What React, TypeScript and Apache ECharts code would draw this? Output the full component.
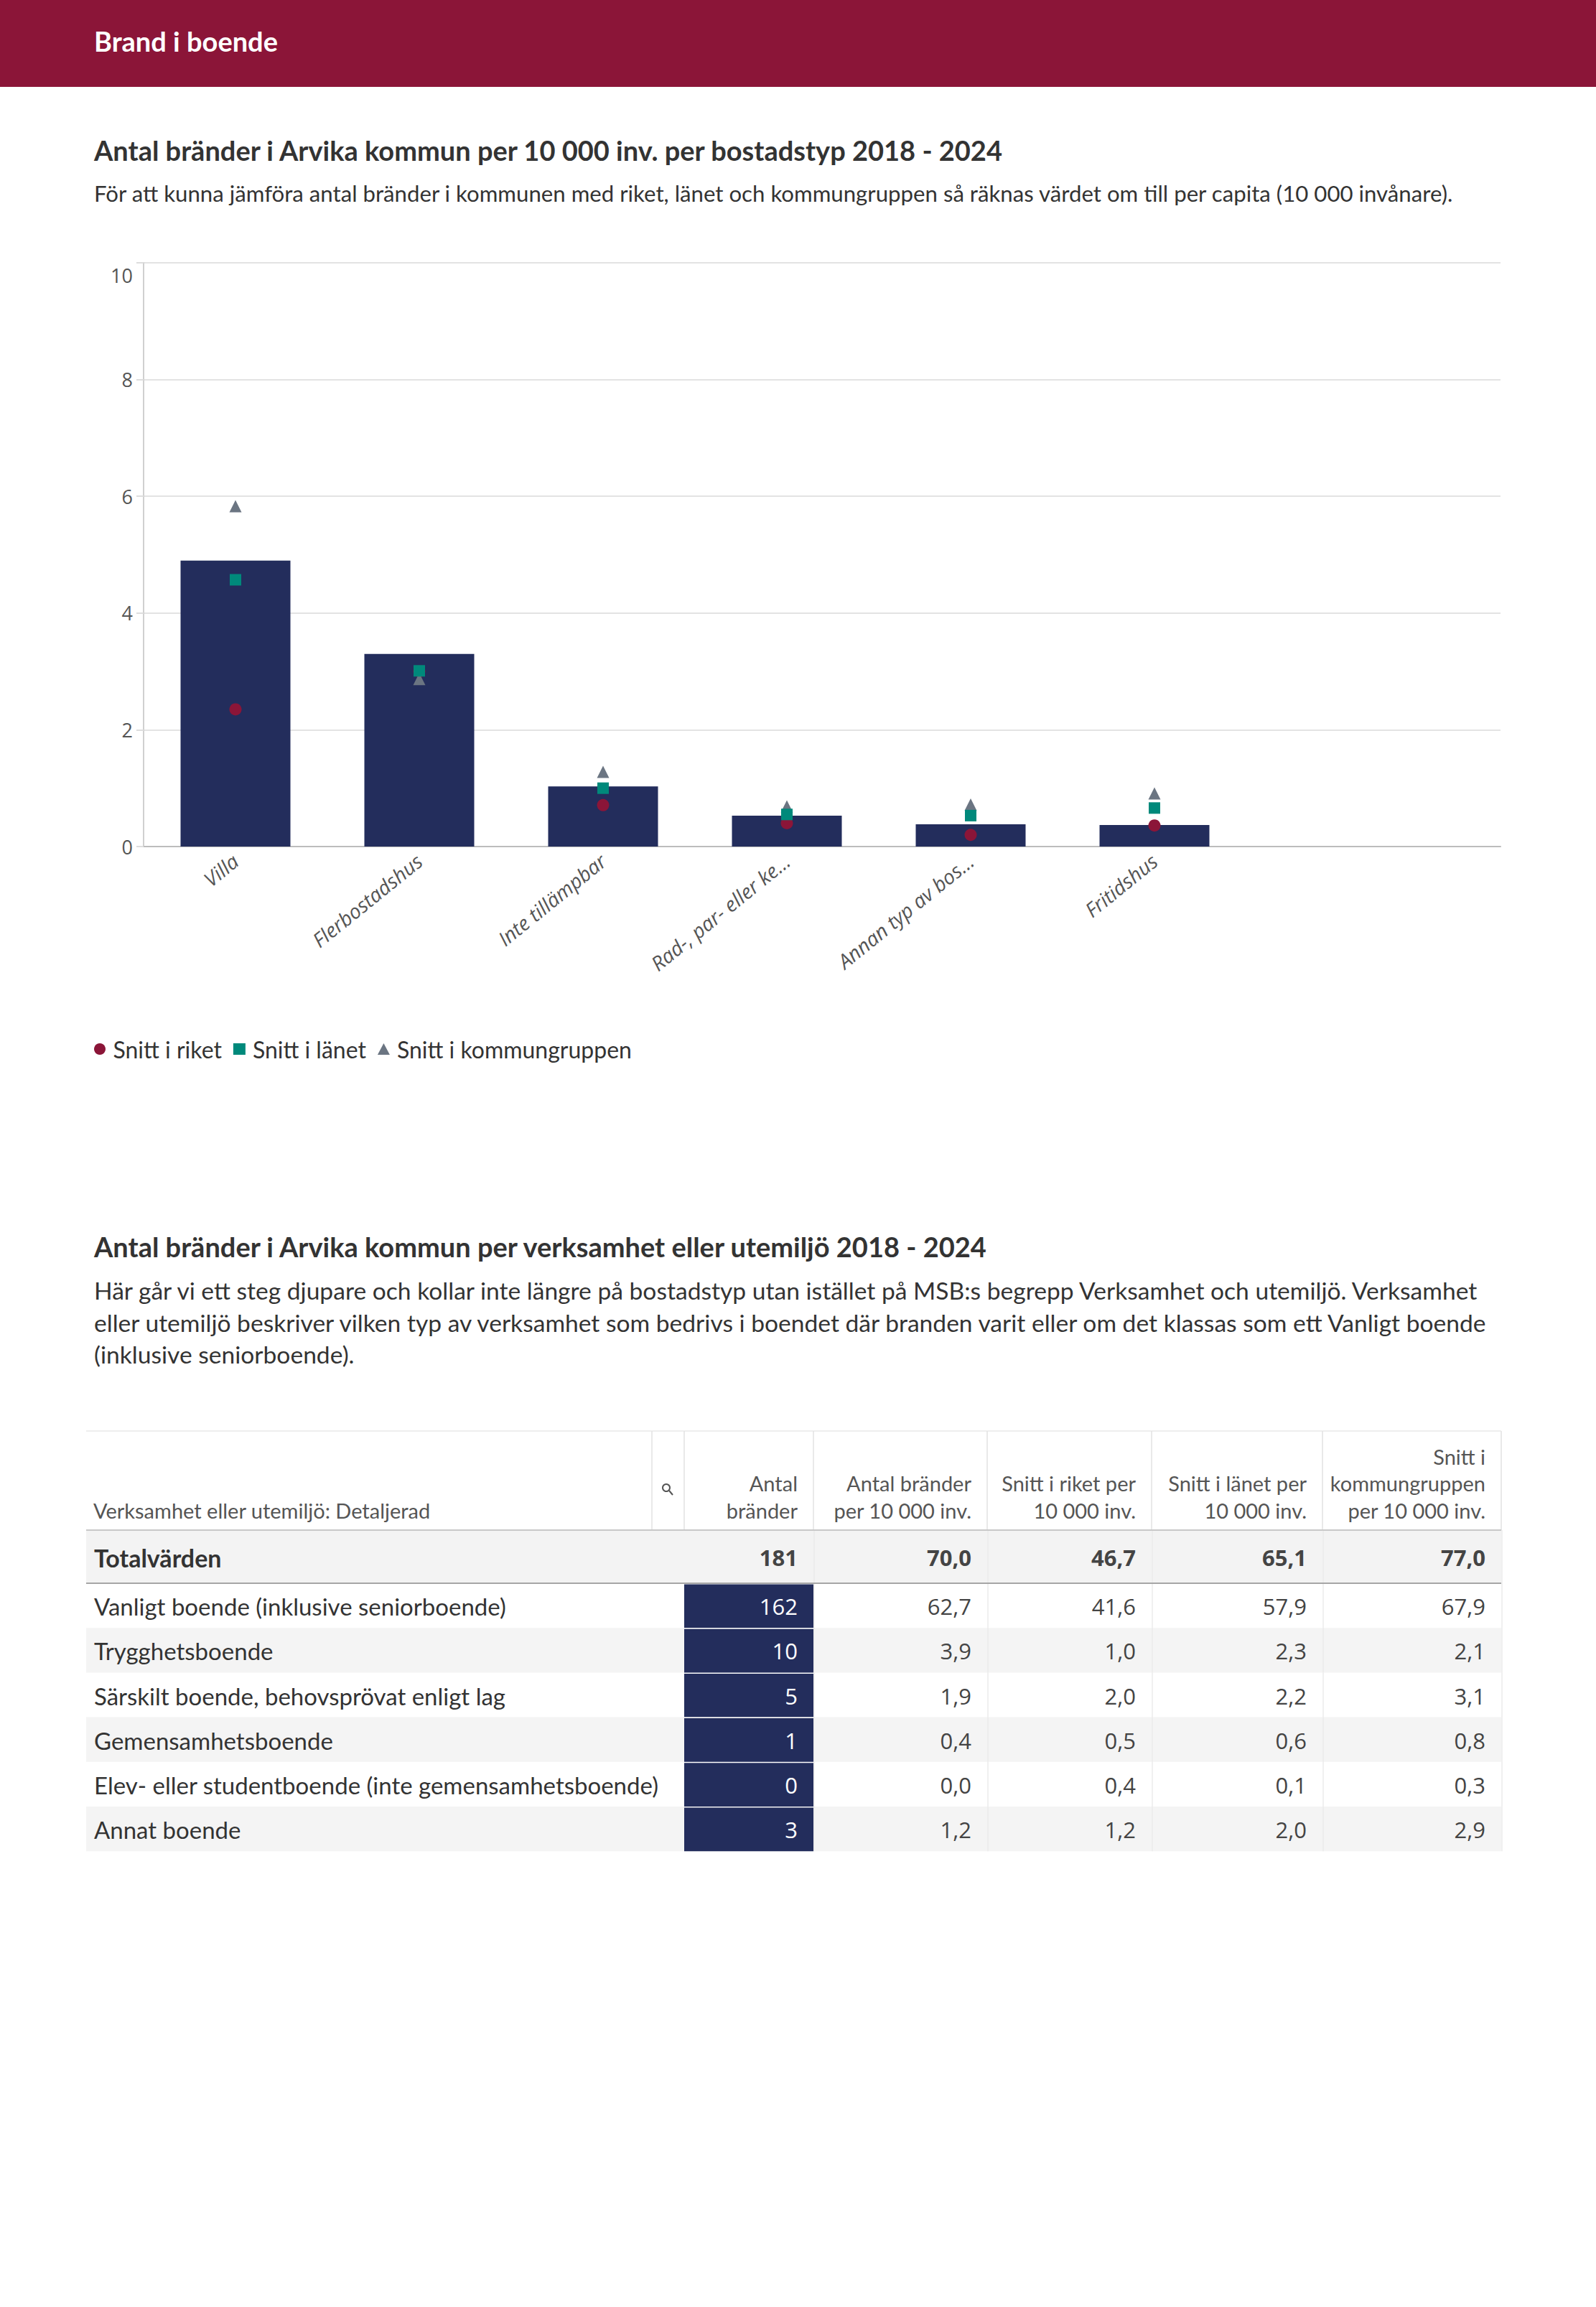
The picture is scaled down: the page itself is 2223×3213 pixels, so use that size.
import React, { useEffect, useRef } from 'react';
import * as echarts from 'echarts';

// ---------- Data ----------
const categories = ['Villa', 'Flerbostadshus', 'Inte tillämpbar', 'Rad-, par- eller ke…', 'Annan typ av bos…', 'Fritidshus'];
const barValues = [4.9, 3.3, 1.03, 0.53, 0.38, 0.37];
const riketValues = [2.35, 3.0, 0.71, 0.4, 0.2, 0.36];
const lanetValues = [4.57, 3.01, 1.0, 0.55, 0.53, 0.66];
const kommunValues = [5.83, 2.87, 1.28, 0.69, 0.72, 0.91];
const legendNames = ['Snitt i riket', 'Snitt i länet', 'Snitt i kommungruppen'];

const tableRows = [
  'Vanligt boende (inklusive seniorboende)',
  'Trygghetsboende',
  'Särskilt boende, behovsprövat enligt lag',
  'Gemensamhetsboende',
  'Elev- eller studentboende (inte gemensamhetsboende)',
  'Annat boende',
];
const antalBrander = [162, 10, 5, 1, 0, 3];
const branderPer10k = [62.7, 3.9, 1.9, 0.4, 0.0, 1.2];
const riketPer10k = [41.6, 1.0, 2.0, 0.5, 0.4, 1.2];
const lanetPer10k = [57.9, 2.3, 2.2, 0.6, 0.1, 2.0];
const kommunPer10k = [67.9, 2.1, 3.1, 0.8, 0.3, 2.9];
const totals = [181, 70.0, 46.7, 65.1, 77.0];
const tableHeaders = [
  ['Antal', 'bränder'],
  ['Antal bränder', 'per 10 000 inv.'],
  ['Snitt i riket per', '10 000 inv.'],
  ['Snitt i länet per', '10 000 inv.'],
  ['Snitt i', 'kommungruppen', 'per 10 000 inv.'],
];
const firstHeader = 'Verksamhet eller utemiljö: Detaljerad';
const totalLabel = 'Totalvärden';

const pageTitle = 'Brand i boende';
const chartTitle = 'Antal bränder i Arvika kommun per 10 000 inv. per bostadstyp 2018 - 2024';
const chartSubtitle = 'För att kunna jämföra antal bränder i kommunen med riket, länet och kommungruppen så räknas värdet om till per capita (10 000 invånare).';
const tableTitle = 'Antal bränder i Arvika kommun per verksamhet eller utemiljö 2018 - 2024';
const tableText = [
  'Här går vi ett steg djupare och kollar inte längre på bostadstyp utan istället på MSB:s begrepp Verksamhet och utemiljö. Verksamhet',
  'eller utemiljö beskriver vilken typ av verksamhet som bedrivs i boendet där branden varit eller om det klassas som ett Vanligt boende',
  '(inklusive seniorboende).',
];

// ---------- Styles ----------
const GILL = 'Lato, "Noto Sans", sans-serif';
const SEGOE = '"Open Sans", "Noto Sans", sans-serif';
const NAVY = '#232d5c';
const CRIMSON = '#8b1538';
const TEAL = '#00897b';
const GREY = '#6b7582';
const TEXT = '#333333';

const fmt = (v: number) => v.toFixed(1).replace('.', ',');

function txt(x: number, y: number, text: string, o: any = {}) {
  return {
    type: 'text',
    x,
    y,
    silent: true,
    z: 10,
    style: {
      text,
      fill: o.fill ?? TEXT,
      fontSize: o.size ?? 28,
      fontFamily: o.family ?? GILL,
      fontWeight: o.weight ?? 'normal',
      align: o.align ?? 'left',
      verticalAlign: 'middle',
    },
  };
}

function rect(x: number, y: number, w: number, h: number, fill: string) {
  return { type: 'rect', silent: true, z: 1, shape: { x, y, width: w, height: h }, style: { fill } };
}

function line(x1: number, y1: number, x2: number, y2: number, stroke: string, lw = 1) {
  return { type: 'line', silent: true, z: 5, shape: { x1, y1, x2, y2 }, style: { stroke, lineWidth: lw } };
}

function buildGraphic() {
  const g: any[] = [];
  // header band
  g.push(rect(0, 0, 2223, 121, CRIMSON));
  g.push(txt(131, 57, pageTitle, { size: 38, weight: 'bold', fill: '#ffffff' }));
  // chart title
  g.push(txt(131, 209, chartTitle, { size: 38, weight: 'bold' }));
  g.push(txt(131, 269, chartSubtitle, { size: 31.2 }));
  // table title
  g.push(txt(131, 1736, tableTitle, { size: 38, weight: 'bold' }));
  tableText.forEach((t, i) => g.push(txt(131, 1797 + i * 44.5, t, { size: 33.6 })));

  // table geometry
  const edges = [120, 908, 953, 1133, 1375, 1604, 1842, 2091];
  const top = 1993;
  const headBottom = 2131;
  const totalBottom = 2205;
  const rowH = 62.2;
  const right = edges[edges.length - 1];

  // header
  g.push(line(edges[0], top, right, top, '#eeeeee', 2));
  g.push(txt(130, 2103, firstHeader, { size: 29, fill: '#555555' }));
  tableHeaders.forEach((lines, c) => {
    const xr = edges[c + 3] - 22;
    const n = lines.length;
    lines.forEach((l, k) => {
      g.push(txt(xr, 2103 - (n - 1 - k) * 37.5, l, { size: 29, fill: '#555555', align: 'right' }));
    });
  });
  // search icon
  g.push({ type: 'circle', silent: true, z: 10, shape: { cx: 928, cy: 2072, r: 5 }, style: { fill: 'none', stroke: '#555555', lineWidth: 2 } });
  g.push(line(932, 2076, 937, 2082, '#555555', 2));
  for (let i = 1; i < edges.length; i++) {
    g.push(line(edges[i], top, edges[i], headBottom, '#e2e2e2', 1.5));
  }

  // total row
  g.push(rect(edges[0], headBottom, right - edges[0], totalBottom - headBottom, '#f3f3f3'));
  g.push(txt(131, 2169, totalLabel, { size: 34, weight: 'bold' }));
  totals.forEach((v, c) => {
    const s = c === 0 ? String(v) : fmt(v);
    g.push(txt(edges[c + 3] - 22, 2169, s, { size: 31, weight: 'bold', family: SEGOE, fill: '#444444', align: 'right' }));
  });

  // body rows
  tableRows.forEach((name, r) => {
    const y0 = totalBottom + r * rowH;
    const cy = y0 + rowH / 2 + 1;
    if (r % 2 === 1) g.push(rect(edges[0], y0, right - edges[0], rowH, '#f4f4f4'));
    g.push(rect(edges[2], y0 + 1.5, edges[3] - edges[2], rowH - 1.5, NAVY));
    g.push(txt(131, cy, name, { size: 33 }));
    g.push(txt(edges[3] - 22, cy, String(antalBrander[r]), { size: 31, family: SEGOE, fill: '#ffffff', align: 'right' }));
    const vals = [branderPer10k[r], riketPer10k[r], lanetPer10k[r], kommunPer10k[r]];
    vals.forEach((v, c) => {
      g.push(txt(edges[c + 4] - 22, cy, fmt(v), { size: 31, family: SEGOE, fill: '#444444', align: 'right' }));
    });
  });
  const bodyBottom = totalBottom + tableRows.length * rowH;
  for (let i = 3; i < edges.length; i++) {
    g.push(line(edges[i] + 1, headBottom, edges[i] + 1, bodyBottom, '#ebebeb', 1.5));
  }
  g.push(line(edges[0], headBottom, right, headBottom, '#c8c8c8', 2));
  g.push(line(edges[0], totalBottom, right, totalBottom, '#a6a6a6', 2));
  return g;
}

function buildOption(): any {
  const axisFont = { fontFamily: SEGOE, fontSize: 27, color: '#555555' };
  return {
    animation: false,
    backgroundColor: '#ffffff',
    graphic: buildGraphic(),
    grid: [
      { left: 200, top: 366, width: 1890, height: 813 },
      { left: 200, top: 366, width: 1536, height: 813 },
    ],
    xAxis: [
      {
        gridIndex: 0,
        type: 'value',
        min: 0,
        max: 1,
        axisLine: { show: true, lineStyle: { color: '#bdbdbd', width: 2 } },
        axisTick: { show: false },
        axisLabel: { show: false },
        splitLine: { show: false },
      },
      {
        gridIndex: 1,
        type: 'category',
        data: categories,
        axisLine: { show: false },
        axisTick: { show: false },
        axisLabel: {
          interval: 0,
          rotate: 39,
          margin: 16,
          fontFamily: SEGOE,
          fontStyle: 'italic',
          fontSize: 28,
          color: '#555555',
        },
      },
    ],
    yAxis: [
      {
        gridIndex: 0,
        type: 'value',
        min: 0,
        max: 10,
        interval: 2,
        axisLine: { show: true, lineStyle: { color: '#d0d0d0', width: 2 } },
        axisTick: { show: true, length: 10, lineStyle: { color: '#dddddd', width: 2 } },
        splitLine: { show: true, lineStyle: { color: '#e3e3e3', width: 2 } },
        axisLabel: {
          ...axisFont,
          margin: 15,
          formatter: (v: number) => (v === 10 ? '{t|10}' : String(v)),
          rich: { t: { ...axisFont, padding: [34, 0, 0, 0] } },
        },
      },
      { gridIndex: 1, type: 'value', min: 0, max: 10, show: false },
    ],
    legend: {
      left: 126,
      top: 1440,
      itemWidth: 17,
      itemHeight: 16,
      itemGap: 16,
      textStyle: { fontFamily: GILL, fontSize: 32, color: TEXT, padding: [0, 0, 0, 5] },
      data: [
        { name: legendNames[0], icon: 'circle' },
        { name: legendNames[1], icon: 'rect' },
        { name: legendNames[2], icon: 'triangle' },
      ],
    },
    series: [
      {
        type: 'bar',
        xAxisIndex: 1,
        yAxisIndex: 1,
        data: barValues,
        barWidth: 153,
        itemStyle: { color: NAVY },
        z: 2,
      },
      {
        name: legendNames[0],
        type: 'scatter',
        xAxisIndex: 1,
        yAxisIndex: 1,
        data: riketValues,
        symbol: 'circle',
        symbolSize: 17,
        itemStyle: { color: CRIMSON, opacity: 1 },
        z: 3,
      },
      {
        name: legendNames[1],
        type: 'scatter',
        xAxisIndex: 1,
        yAxisIndex: 1,
        data: lanetValues,
        symbol: 'rect',
        symbolSize: 16,
        itemStyle: { color: TEAL, opacity: 1 },
        z: 5,
      },
      {
        name: legendNames[2],
        type: 'scatter',
        xAxisIndex: 1,
        yAxisIndex: 1,
        data: kommunValues,
        symbol: 'triangle',
        symbolSize: 17,
        itemStyle: { color: GREY, opacity: 1 },
        z: 4,
      },
    ],
  };
}

export default function App() {
  const ref = useRef<HTMLDivElement>(null);
  useEffect(() => {
    if (!ref.current) return;
    const chart = echarts.init(ref.current, null, { renderer: 'svg', width: 2223, height: 3213 });
    chart.setOption(buildOption());
    return () => chart.dispose();
  }, []);
  return (
    <div
      ref={ref}
      style={{ position: 'absolute', left: 0, top: 0, width: 2223, height: 3213, background: '#ffffff' }}
    />
  );
}
